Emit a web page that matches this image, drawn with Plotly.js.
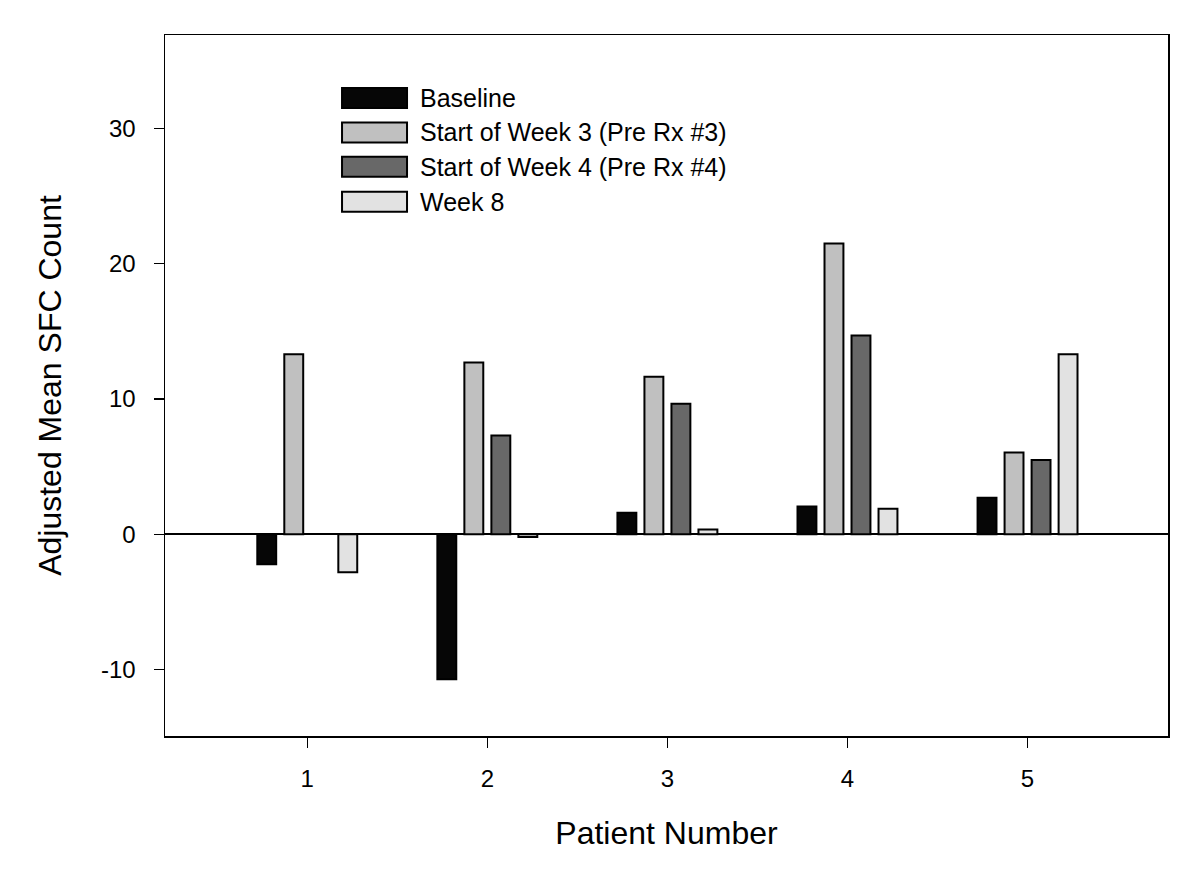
<!DOCTYPE html>
<html>
<head>
<meta charset="utf-8">
<script src="https://cdn.plot.ly/plotly-3.0.1.min.js"></script>
<style>html,body{margin:0;padding:0;background:#fff;}#chart{width:1200px;height:882px;}</style>
</head>
<body>
<div id="chart"></div>
<script>
var patients = [1, 2, 3, 4, 5];
var seriesNames = ["Baseline", "Start of Week 3 (Pre Rx #3)", "Start of Week 4 (Pre Rx #4)", "Week 8"];
var baseline = [-2.2, -10.7, 1.6, 2.05, 2.7];
var week3 = [13.3, 12.7, 11.65, 21.5, 6.05];
var week4 = [null, 7.3, 9.65, 14.7, 5.5];
var week8 = [-2.8, -0.2, 0.35, 1.9, 13.3];
var seriesColors = ["#060606", "#c0c0c0", "#686868", "#e2e2e2"];
var yTicks = [-10, 0, 10, 20, 30];

var seriesValues = [baseline, week3, week4, week8];
var FONT = "Arial, 'Liberation Sans', sans-serif";

var traces = seriesValues.map(function (vals, i) {
  return {
    type: "bar",
    name: seriesNames[i],
    x: patients,
    y: vals,
    marker: { color: seriesColors[i], line: { color: "#000", width: 2 } },
    showlegend: false,
    hoverinfo: "x+y+name"
  };
});

// custom legend (wide swatches like the reference)
var shapes = [];
var annotations = [];
var lgX0 = 0.1765, lgX1 = 0.2413, lgTextX = 0.252;
var lgY = [0.910, 0.861, 0.812, 0.762];
var halfH = 0.0143;
seriesNames.forEach(function (nm, i) {
  shapes.push({
    type: "rect", xref: "paper", yref: "paper",
    x0: lgX0, x1: lgX1, y0: lgY[i] - halfH, y1: lgY[i] + halfH,
    fillcolor: seriesColors[i], line: { color: "#000", width: 2 }
  });
  annotations.push({
    xref: "paper", yref: "paper", x: lgTextX, y: lgY[i],
    xanchor: "left", yanchor: "middle", showarrow: false,
    text: nm, font: { family: FONT, size: 25, color: "#000" }
  });
});

var layout = {
  width: 1200, height: 882,
  margin: { l: 165, r: 32, t: 35, b: 146 },
  paper_bgcolor: "#fff", plot_bgcolor: "#fff",
  barmode: "group", bargap: 0.4, bargroupgap: 0.3,
  font: { family: FONT, color: "#000" },
  showlegend: false,
  xaxis: {
    range: [0.21, 5.78],
    tickvals: patients,
    ticktext: patients.map(String),
    ticks: "outside", ticklen: 10, tickwidth: 1.5, tickcolor: "#000",
    ticklabelstandoff: 11,
    showline: true, linecolor: "#000", linewidth: 1.5, mirror: true,
    showgrid: false, zeroline: false,
    tickfont: { family: FONT, size: 24, color: "#000" },
    title: { text: "Patient Number", font: { family: FONT, size: 32, color: "#000" }, standoff: 30 }
  },
  yaxis: {
    range: [-14.9, 36.9],
    tickvals: yTicks,
    ticktext: yTicks.map(String),
    ticks: "outside", ticklen: 10, tickwidth: 1.5, tickcolor: "#000",
    ticklabelstandoff: 13,
    showline: true, linecolor: "#000", linewidth: 1.5, mirror: true,
    showgrid: false, zeroline: true, zerolinecolor: "#000", zerolinewidth: 2,
    tickfont: { family: FONT, size: 24, color: "#000" },
    title: { text: "Adjusted Mean SFC Count", font: { family: FONT, size: 32, color: "#000" }, standoff: 30 }
  },
  shapes: shapes,
  annotations: annotations
};

Plotly.newPlot("chart", traces, layout, { displayModeBar: false, staticPlot: true });
</script>
</body>
</html>
